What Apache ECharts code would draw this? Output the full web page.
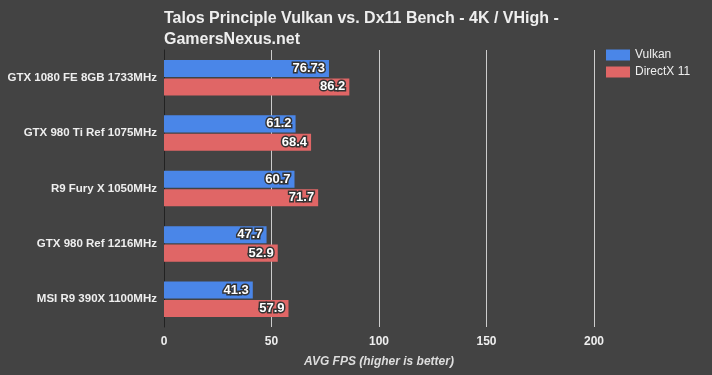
<!DOCTYPE html>
<html>
<head>
<meta charset="utf-8">
<script src="https://cdn.jsdelivr.net/npm/echarts@6/dist/echarts.min.js"></script>
<style>
    html, body {margin: 0; padding: 0; background: #434343;}
    #main {width: 712px; height: 375px;}
</style>
</head>
<body>
<div id="main"></div>
<script>
// 数据
var gpuNames = ['GTX 1080 FE 8GB 1733MHz', 'GTX 980 Ti Ref 1075MHz', 'R9 Fury X 1050MHz', 'GTX 980 Ref 1216MHz', 'MSI R9 390X 1100MHz'];
var vulkanFps = [76.73, 61.2, 60.7, 47.7, 41.3];
var dx11Fps = [86.2, 68.4, 71.7, 52.9, 57.9];
var seriesNames = ['Vulkan', 'DirectX 11'];

var myChart = echarts.init(document.getElementById('main'));

var barLabel = {
    show: true,
    position: 'insideRight',
    distance: 4,
    color: '#fff',
    fontFamily: 'Liberation Sans',
    fontWeight: 'bold',
    fontSize: 13,
    textBorderColor: '#333',
    textBorderWidth: 3
};

var option = {
    backgroundColor: '#434343',
    animation: false,
    title: {
        text: 'Talos Principle Vulkan vs. Dx11 Bench - 4K / VHigh -\nGamersNexus.net',
        left: 159,
        top: 3,
        textStyle: {
            color: '#eeeeee',
            fontFamily: 'Liberation Sans',
            fontWeight: 'bold',
            fontSize: 16,
            lineHeight: 21
        }
    },
    legend: {
        orient: 'vertical',
        left: 601,
        top: 44,
        itemWidth: 24,
        itemHeight: 11,
        itemGap: 5,
        icon: 'rect',
        textStyle: {
            color: '#eeeeee',
            fontFamily: 'Liberation Sans',
            fontSize: 12
        },
        data: seriesNames
    },
    grid: {
        left: 164,
        right: 118,
        top: 50,
        bottom: 48
    },
    xAxis: {
        type: 'value',
        min: 0,
        max: 200,
        interval: 50,
        name: 'AVG FPS (higher is better)',
        nameLocation: 'middle',
        nameGap: 29,
        nameTextStyle: {
            color: '#dddddd',
            fontFamily: 'Liberation Sans',
            fontWeight: 'bold',
            fontStyle: 'italic',
            fontSize: 12
        },
        axisLine: {show: false},
        axisTick: {show: false},
        axisLabel: {
            color: '#eeeeee',
            fontFamily: 'Liberation Sans',
            fontWeight: 'bold',
            fontSize: 12,
            margin: 9
        },
        splitLine: {
            show: true,
            lineStyle: {color: '#cccccc', width: 1}
        }
    },
    yAxis: {
        type: 'category',
        inverse: true,
        data: gpuNames,
        axisLine: {show: true, lineStyle: {color: '#222222', width: 1}},
        axisTick: {show: false},
        axisLabel: {
            color: '#eeeeee',
            fontFamily: 'Liberation Sans',
            fontWeight: 'bold',
            fontSize: 11.5,
            margin: 7
        }
    },
    series: [
        {
            name: seriesNames[0],
            type: 'bar',
            barGap: '8%',
            barCategoryGap: '36%',
            itemStyle: {color: '#4a86e8'},
            label: barLabel,
            data: vulkanFps
        },
        {
            name: seriesNames[1],
            type: 'bar',
            itemStyle: {color: '#e06666'},
            label: barLabel,
            data: dx11Fps
        }
    ]
};

myChart.setOption(option);
</script>
</body>
</html>
